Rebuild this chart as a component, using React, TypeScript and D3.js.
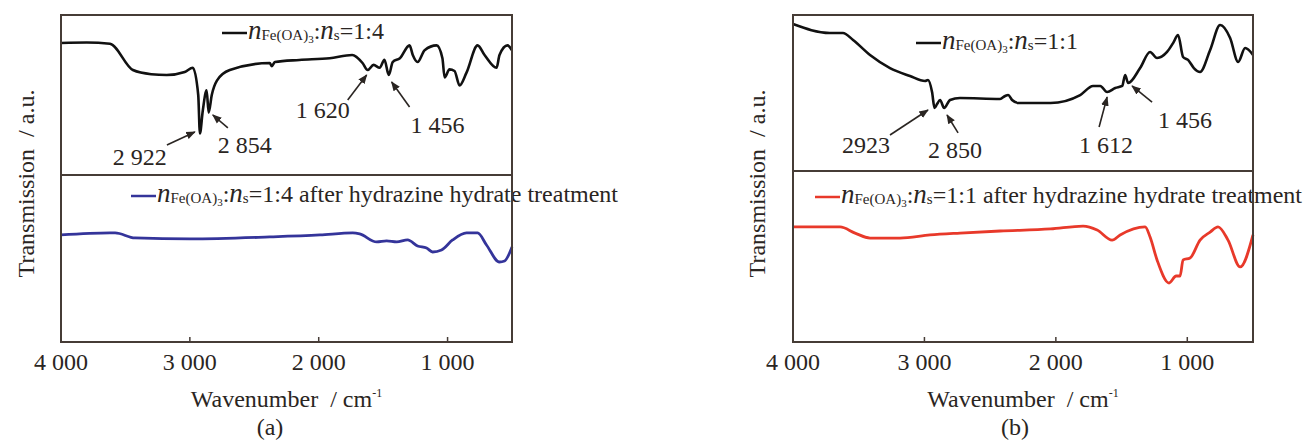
import * as d3 from "d3"

const tickValues = [4000, 3000, 2000, 1000]
const tickLabels = ["4 000", "3 000", "2 000", "1 000"]

// (a) n(Fe(OA)3):ns = 1:4, as prepared
const aTopWn = [4000, 3800, 3620, 3442, 3300, 3180, 3040, 2977, 2935, 2922, 2900, 2870, 2854, 2830, 2790, 2690, 2380, 2365, 2340, 2150, 1915, 1740, 1660, 1620, 1574, 1527, 1490, 1456, 1426, 1370, 1295, 1270, 1233, 1178, 1085, 1040, 1023, 985, 946, 907, 853, 767, 713, 620, 597, 535, 500]
const aTopT = [82.5, 82.8, 82, 65.6, 63, 62.5, 64.4, 67, 50, 26, 40, 53, 39, 50, 59, 65.6, 70, 68, 70.6, 71.9, 73, 75, 70, 65.6, 68.8, 67, 72, 62.5, 70.6, 73, 81, 75, 70.6, 78, 81, 73, 61, 66, 65, 56, 64, 81, 75, 67, 75, 81, 78]
// (a) after hydrazine hydrate treatment
const aBotWn = [4000, 3620, 3580, 3426, 3000, 2380, 1990, 1736, 1682, 1550, 1473, 1395, 1310, 1233, 1163, 1116, 1047, 961, 853, 767, 698, 597, 558, 500]
const aBotT = [64.1, 65.3, 65.3, 62.3, 61.7, 62.9, 64.1, 65.3, 64.7, 59.9, 60.5, 59.9, 61.1, 57.5, 56.3, 53.9, 55.1, 61.1, 65.3, 65.3, 58.1, 47.9, 48.5, 56.9]

// (b) n(Fe(OA)3):ns = 1:1, as prepared
const bTopWn = [4000, 3720, 3620, 3543, 3414, 3262, 3110, 2995, 2973, 2942, 2923, 2904, 2881, 2850, 2805, 2730, 2424, 2386, 2363, 2333, 2285, 2040, 1815, 1717, 1662, 1610, 1548, 1495, 1473, 1450, 1359, 1283, 1230, 1154, 1108, 1070, 1032, 994, 950, 903, 826, 750, 674, 613, 560, 500]
const bTopT = [94.2, 88.5, 88.5, 84, 74.4, 66, 60.9, 57.7, 58.3, 50.6, 40.4, 42.9, 45.5, 40.4, 45.5, 46.8, 46.2, 48.1, 48.7, 45.5, 43.6, 43.6, 48.7, 54.5, 54.5, 50.6, 53.2, 54.5, 61.5, 56.4, 66, 76.3, 72.4, 76.3, 82, 87.2, 73.1, 71.2, 66, 63.5, 77.6, 93.6, 85.3, 69.9, 78.8, 74.4]
// (b) after hydrazine hydrate treatment
const bBotWn = [4000, 3642, 3528, 3414, 3186, 2957, 2729, 2424, 2040, 1793, 1686, 1572, 1511, 1321, 1283, 1230, 1139, 1085, 1055, 1032, 979, 903, 826, 766, 690, 598, 500]
const bBotT = [67.3, 67.3, 63.7, 60.8, 60.8, 62.6, 63.7, 64.9, 66.1, 67.8, 65.5, 59.6, 62.6, 67.3, 61.4, 48, 34.5, 38.6, 38.6, 48, 49.1, 59.6, 64.3, 67.3, 59.6, 43.9, 62.6]

// peak labels: [label, tip wn, tip T, tail wn, tail T, text wn, text T]
const aPeaks: [string, number, number, number, number, number, number][] = [
  ["2 922", 2961, 26.9, 3178, 18.8, 3388, 6.3],
  ["2 854", 2822, 37.5, 2705, 29.4, 2574, 13.8],
  ["1 620", 1628, 62.5, 1775, 46.9, 1969, 35.6],
  ["1 456", 1434, 58.1, 1295, 42.5, 1078, 26.3],
]
const bPeaks: [string, number, number, number, number, number, number][] = [
  ["2923", 2973, 39.1, 3262, 23.1, 3444, 11.5],
  ["2 850", 2828, 35.9, 2744, 24.4, 2767, 8.3],
  ["1 612", 1610, 47.4, 1671, 28.2, 1618, 11.5],
  ["1 456", 1420, 54.5, 1268, 44.2, 1017, 27.6],
]

const FONT = "'Liberation Serif', 'Times New Roman', serif"
const INK = "#2a2522"
const FRAME = "#463c36"

interface PanelProps {
  left: number
  right: number
  top: number
  mid: number
  bottom: number
  topWn: number[]
  topT: number[]
  botWn: number[]
  botT: number[]
  botColor: string
  ratio: string
  peaks: [string, number, number, number, number, number, number][]
  tag: string
  legTop: { x: number; y: number }
  legBot: { x: number; y: number }
  ylabX: number
  tagX: number
}

const Legend = ({ x, y, color, ratio, extra }: { x: number; y: number; color: string; ratio: string; extra?: string }) => (
  <g>
    <line x1={x} x2={x + 25} y1={y} y2={y} stroke={color} strokeWidth={2.5} />
    <text x={x + 26} y={y + 6} fontFamily={FONT} fontSize={24} fill={INK}>
      <tspan fontStyle="italic" fontSize={27}>n</tspan>
      <tspan fontSize={15} dy={1}>Fe(OA)</tspan>
      <tspan fontSize={11} dy={3}>3</tspan>
      <tspan dy={-4}>:</tspan>
      <tspan fontStyle="italic" fontSize={27}>n</tspan>
      <tspan fontSize={15} dy={1}>s</tspan>
      <tspan dy={-1}>{`=${ratio}`}{extra ?? ""}</tspan>
    </text>
  </g>
)

const Panel = (p: PanelProps) => {
  const x = d3.scaleLinear().domain([4000, 500]).range([p.left, p.right])
  const yTop = d3.scaleLinear().domain([0, 100]).range([p.mid, p.top])
  const yBot = d3.scaleLinear().domain([0, 100]).range([p.bottom, p.mid])
  const topLine = d3.line<number>().x((d) => x(d)).y((_, i) => yTop(p.topT[i])).curve(d3.curveMonotoneX)
  const botLine = d3.line<number>().x((d) => x(d)).y((_, i) => yBot(p.botT[i])).curve(d3.curveMonotoneX)
  const cx = (p.left + p.right) / 2

  return (
    <g>
      <path d={topLine(p.topWn) ?? ""} fill="none" stroke="#111" strokeWidth={2.6} strokeLinejoin="round" />
      <path d={botLine(p.botWn) ?? ""} fill="none" stroke={p.botColor} strokeWidth={2.8} strokeLinejoin="round" />

      {p.peaks.map(([lab, tw, tt, sw, st, lw, lt]) => (
        <g key={lab + tw}>
          <line x1={x(sw)} y1={yTop(st)} x2={x(tw)} y2={yTop(tt)} stroke={INK} strokeWidth={1.6} markerEnd="url(#arrowhead)" />
          <text x={x(lw)} y={yTop(lt)} textAnchor="middle" fontFamily={FONT} fontSize={24} fill={INK}>{lab}</text>
        </g>
      ))}

      <Legend x={p.legTop.x} y={p.legTop.y} color="#111" ratio={p.ratio} />
      <Legend x={p.legBot.x} y={p.legBot.y} color={p.botColor} ratio={p.ratio} extra=" after hydrazine hydrate treatment" />

      <rect x={p.left} y={p.top} width={p.right - p.left} height={p.bottom - p.top} fill="none" stroke={FRAME} strokeWidth={2} />
      <line x1={p.left} x2={p.right} y1={p.mid} y2={p.mid} stroke={FRAME} strokeWidth={2} />

      {tickValues.map((t, i) => (
        <g key={t}>
          <line x1={x(t)} x2={x(t)} y1={p.bottom} y2={p.bottom - 5} stroke={FRAME} strokeWidth={1.5} />
          <text x={x(t)} y={370} textAnchor="middle" fontFamily={FONT} fontSize={24} fill={INK}>{tickLabels[i]}</text>
        </g>
      ))}

      <text x={cx} y={407} textAnchor="middle" fontFamily={FONT} fontSize={24} fill={INK}>
        Wavenumber{"\u2002"}/ cm<tspan fontSize={12} dy={-10}>-1</tspan>
      </text>
      <text x={p.tagX} y={435} textAnchor="middle" fontFamily={FONT} fontSize={24} fill={INK}>{p.tag}</text>

      <text transform={`translate(${p.ylabX},${(p.top + p.bottom) / 2 + 5}) rotate(-90)`} textAnchor="middle" fontFamily={FONT} fontSize={24} fill={INK}>
        Transmission{"\u2002"}/ a.u.
      </text>
    </g>
  )
}

export default function App() {
  return (
    <svg width={1314} height={442} style={{ position: "absolute", left: 0, top: 0, background: "#fff" }}>
      <defs>
        <marker id="arrowhead" viewBox="0 0 10 10" refX={9} refY={5} markerWidth={6} markerHeight={6} orient="auto">
          <path d="M0,1 L10,5 L0,9 z" fill={INK} />
        </marker>
      </defs>
      <Panel
        left={61} right={512} top={15} mid={175} bottom={342}
        topWn={aTopWn} topT={aTopT} botWn={aBotWn} botT={aBotT}
        botColor="#34349a" ratio="1:4" peaks={aPeaks} tag="(a)"
        legTop={{ x: 222, y: 33 }} legBot={{ x: 131, y: 196 }}
        ylabX={34} tagX={270}
      />
      <Panel
        left={793} right={1253} top={15} mid={171} bottom={342}
        topWn={bTopWn} topT={bTopT} botWn={bBotWn} botT={bBotT}
        botColor="#e8392a" ratio="1:1" peaks={bPeaks} tag="(b)"
        legTop={{ x: 916, y: 43 }} legBot={{ x: 815, y: 197 }}
        ylabX={765} tagX={1015}
      />
    </svg>
  )
}
